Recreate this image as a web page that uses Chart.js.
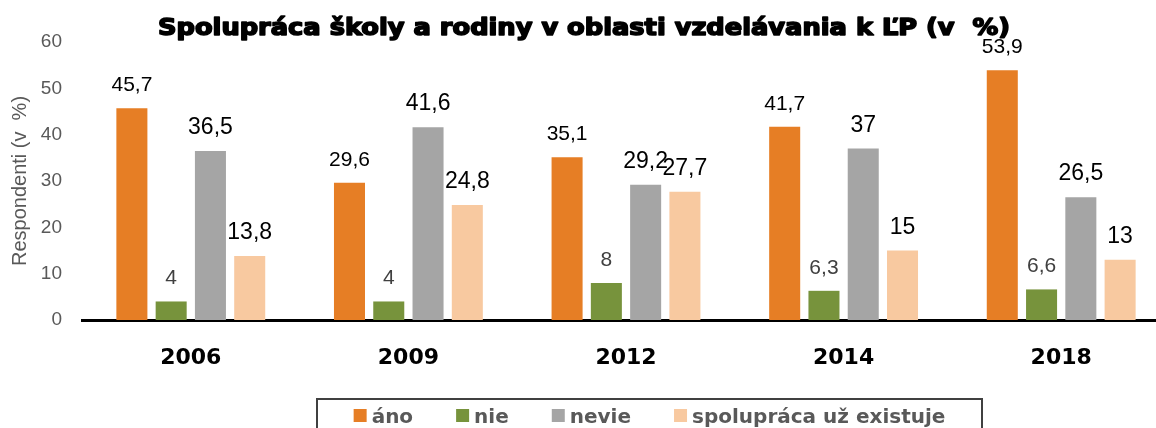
<!DOCTYPE html>
<html lang="sk">
<head>
<meta charset="utf-8">
<title>Spolupráca školy a rodiny</title>
<script src="https://cdn.jsdelivr.net/npm/chart.js@4.4.0/dist/chart.umd.min.js"></script>
<style>
    html, body {
        margin: 0;
        padding: 0;
        background: #fff;
        overflow: hidden;
    }
    #chartBox {
        width: 1170px;
        height: 428px;
    }
</style>
</head>
<body>
<div id="chartBox">
    <canvas id="schoolChart" width="1170" height="428"></canvas>
</div>
<script>
    // roky prieskumu
    const years = ['2006', '2009', '2012', '2014', '2018'];

    // odpovede v %
    const ano = [45.7, 29.6, 35.1, 41.7, 53.9];
    const nie = [4, 4, 8, 6.3, 6.6];
    const nevie = [36.5, 41.6, 29.2, 37, 26.5];
    const existuje = [13.8, 24.8, 27.7, 15, 13];

    const titleText = 'Spolupráca školy a rodiny v oblasti vzdelávania k ĽP (v  %)';

    // hodnoty nad stĺpcami, desatinná čiarka
    const valueLabels = {
        id: 'valueLabels',
        afterDatasetsDraw(chart) {
            const ctx = chart.ctx;
            chart.data.datasets.forEach((ds, i) => {
                const meta = chart.getDatasetMeta(i);
                ctx.save();
                ctx.font = ds.labelFont;
                ctx.fillStyle = ds.labelColor;
                ctx.textAlign = 'center';
                ctx.textBaseline = 'alphabetic';
                meta.data.forEach((bar, j) => {
                    ctx.fillText(String(ds.data[j]).replace('.', ','), bar.x, bar.y - 17);
                });
                ctx.restore();
            });
        }
    };

    // nadpis - široké tučné písmo, roztiahnuté na šírku 852 px
    const chartTitle = {
        id: 'chartTitle',
        afterDraw(chart) {
            const ctx = chart.ctx;
            const targetWidth = 852;
            ctx.save();
            ctx.font = 'bold 23px "DejaVu Sans"';
            const w = ctx.measureText(titleText).width;
            ctx.translate(584, 35);
            ctx.scale(targetWidth / w, 1);
            ctx.fillStyle = '#000';
            ctx.strokeStyle = '#000';
            ctx.lineWidth = 1.6;
            ctx.lineJoin = 'round';
            ctx.textAlign = 'center';
            ctx.textBaseline = 'alphabetic';
            ctx.strokeText(titleText, 0, 0);
            ctx.fillText(titleText, 0, 0);
            ctx.restore();
        }
    };

    // legenda v rámčeku pod grafom
    const boxLegend = {
        id: 'boxLegend',
        afterDraw(chart) {
            const ctx = chart.ctx;
            const box = {left: 317, top: 399, width: 665, height: 40};
            const square = 13;
            const gap = 5;
            const spacing = 43;

            ctx.save();
            ctx.strokeStyle = '#404040';
            ctx.lineWidth = 2;
            ctx.strokeRect(box.left, box.top, box.width, box.height);

            ctx.font = 'bold 20px "DejaVu Sans"';
            ctx.textBaseline = 'alphabetic';
            ctx.textAlign = 'left';

            const items = chart.data.datasets.map(ds => ({
                text: ds.label,
                color: ds.backgroundColor,
                w: ctx.measureText(ds.label).width
            }));
            let total = 0;
            items.forEach((it, i) => {
                total += square + gap + it.w + (i < items.length - 1 ? spacing : 0);
            });

            let x = box.left + (box.width - total) / 2;
            items.forEach(it => {
                ctx.fillStyle = it.color;
                ctx.fillRect(x, 409, square, square);
                x += square + gap;
                ctx.fillStyle = '#595959';
                ctx.fillText(it.text, x, 423);
                x += it.w + spacing;
            });
            ctx.restore();
        }
    };

    const data = {
        labels: years,
        datasets: [
            {
                label: 'áno',
                data: ano,
                backgroundColor: '#E67E25',
                labelFont: '21px "Liberation Sans"',
                labelColor: '#000'
            },
            {
                label: 'nie',
                data: nie,
                backgroundColor: '#77933C',
                labelFont: '21px "Liberation Sans"',
                labelColor: '#404040'
            },
            {
                label: 'nevie',
                data: nevie,
                backgroundColor: '#A5A5A5',
                labelFont: '23px "Liberation Sans"',
                labelColor: '#000'
            },
            {
                label: 'spolupráca už existuje',
                data: existuje,
                backgroundColor: '#F8C9A0',
                labelFont: '23px "Liberation Sans"',
                labelColor: '#000'
            }
        ]
    };

    const config = {
        type: 'bar',
        data: data,
        options: {
            responsive: false,
            animation: false,
            events: [],
            layout: {
                padding: {top: 42, left: 0, right: 0, bottom: 0}
            },
            datasets: {
                bar: {
                    categoryPercentage: 0.722,
                    barPercentage: 0.79
                }
            },
            plugins: {
                legend: {display: false},
                title: {display: false},
                tooltip: {enabled: false}
            },
            scales: {
                x: {
                    z: 1,
                    grid: {display: false, drawTicks: false},
                    border: {display: true, color: '#000', width: 3},
                    ticks: {
                        color: '#000',
                        padding: 25,
                        font: {family: 'DejaVu Sans', size: 22, weight: 'bold'}
                    },
                    afterFit(scale) {
                        scale.height = 108;
                    }
                },
                y: {
                    min: 0,
                    max: 60,
                    grid: {display: false, drawTicks: false},
                    border: {display: false},
                    ticks: {
                        stepSize: 10,
                        color: '#595959',
                        padding: 20,
                        font: {family: 'Liberation Sans', size: 19}
                    },
                    title: {
                        display: true,
                        text: 'Respondenti (v  %)',
                        color: '#595959',
                        padding: {top: 8, bottom: 0},
                        font: {family: 'Liberation Sans', size: 20}
                    },
                    afterFit(scale) {
                        scale.width = 82;
                    }
                }
            }
        },
        plugins: [valueLabels, chartTitle, boxLegend]
    };

    new Chart(document.getElementById('schoolChart'), config);
</script>
</body>
</html>
